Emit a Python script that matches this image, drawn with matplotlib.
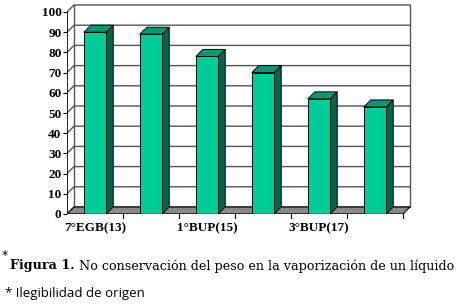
import matplotlib
matplotlib.use("Agg")
import matplotlib.pyplot as plt
from matplotlib.patches import Polygon, Rectangle

categories = ["7°EGB(13)", "", "1°BUP(15)", "", "3°BUP(17)", ""]
values = [90, 89, 78, 70, 57, 53]
yticks = list(range(0, 101, 10))

W, H = 457, 306
fig = plt.figure(figsize=(W / 100, H / 100), dpi=100)

# pixel layout: front origin at (67,214); 56 px per category, 2.02 px per unit
x0, y0 = 67, 214
pxc, pxv = 56.0, 2.02
xmax, ymax = 6.3, 104.5
ax = fig.add_axes([x0 / W, 1 - y0 / H, xmax * pxc / W, ymax * pxv / H])
ax.set_xlim(0, xmax)
ax.set_ylim(0, ymax)
for s in ax.spines.values():
    s.set_visible(False)

n = len(values)
dx, dy = 7 / pxc, 7 / pxv
grid_c = "#555555"

# side wall (left)
ax.add_patch(Polygon([(0, 0), (0, 100), (dx, 100 + dy), (dx, dy)], closed=True,
                     facecolor="white", edgecolor="none", zorder=1))
# back wall
ax.add_patch(Polygon([(dx, dy), (dx, 100 + dy), (n + dx, 100 + dy), (n + dx, dy)], closed=True,
                     facecolor="white", edgecolor="none", zorder=1))
for v in yticks:
    ax.plot([0, dx, n + dx], [v, v + dy, v + dy], color=grid_c, lw=1.0, zorder=2)
ax.plot([dx, dx], [dy, 100 + dy], color=grid_c, lw=1.0, zorder=2)
ax.plot([n + dx, n + dx], [dy, 100 + dy], color=grid_c, lw=1.0, zorder=2)
ax.plot([0, 0], [0, 100], color="black", lw=1.2, zorder=6)

# floor
ax.add_patch(Polygon([(0, 0), (n, 0), (n + dx, dy), (dx, dy)], closed=True,
                     facecolor="#8a8a8a", edgecolor="black", lw=0.8, zorder=3))

# bars
front_c, top_c, side_c = "#00CC99", "#009973", "#006650"
w = 0.2
for i, v in enumerate(values):
    c = i + 0.5
    ax.add_patch(Polygon([(c + w, 0), (c + w + dx, dy), (c + w + dx, v + dy), (c + w, v)],
                         closed=True, facecolor=side_c, edgecolor="black", lw=0.7, zorder=4))
    ax.add_patch(Polygon([(c - w, v), (c + w, v), (c + w + dx, v + dy), (c - w + dx, v + dy)],
                         closed=True, facecolor=top_c, edgecolor="black", lw=0.7, zorder=4))
    ax.add_patch(Rectangle((c - w, 0), 2 * w, v, facecolor=front_c, edgecolor="black",
                           lw=0.7, zorder=5))

# x ticks at category boundaries
for k in range(1, n + 1):
    ax.plot([k, k], [0, -1.8], color="black", lw=0.8, clip_on=False, zorder=6)
ax.plot([0, n], [0, 0], color="black", lw=1.0, zorder=6)

ax.set_xticks([i + 0.5 for i in range(n)])
ax.set_xticklabels(categories, fontfamily="Liberation Serif", fontweight="bold", fontsize=9.5)
ax.tick_params(axis="x", length=0, pad=6)
ax.set_yticks(yticks)
ax.set_yticklabels([str(t) for t in yticks], fontfamily="Liberation Serif", fontweight="bold",
                   fontsize=9.5)
ax.tick_params(axis="y", length=3, width=0.8, pad=1)

# caption
fig.text(2 / W, 1 - 256 / H, "*", fontsize=9, fontfamily="DejaVu Sans", va="center", ha="left")
t1 = fig.text(10 / W, 1 - 266 / H, "Figura 1.", fontsize=9.2, fontfamily="DejaVu Serif",
              fontweight="bold", va="center", ha="left")
fig.canvas.draw()
bb = t1.get_window_extent()
fig.text((bb.x1 + 4) / W, 1 - 266 / H, "No conservación del peso en la vaporización de un líquido",
         fontsize=9.2, fontfamily="DejaVu Serif", va="center", ha="left")
fig.text(5 / W, 1 - 293 / H, "* Ilegibilidad de origen", fontsize=9.5, fontfamily="Open Sans",
         va="center", ha="left")

fig.savefig("out.png", dpi=100)
